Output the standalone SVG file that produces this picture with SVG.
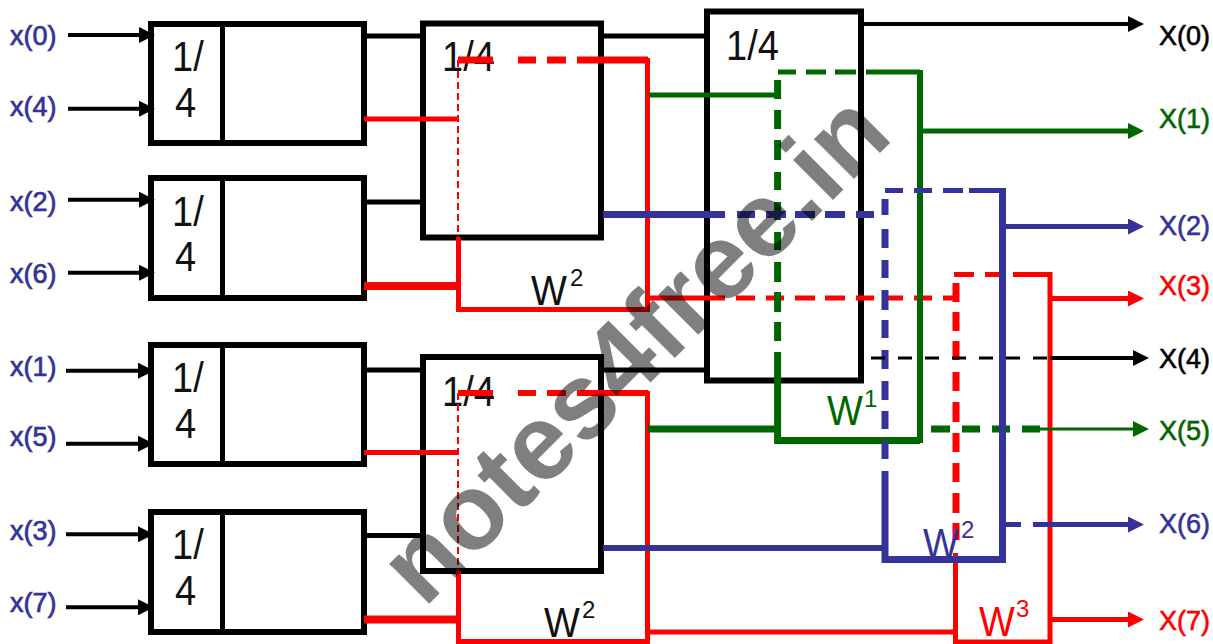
<svg xmlns="http://www.w3.org/2000/svg" width="1213" height="644" viewBox="0 0 1213 644">
<style>
text{font-family:"Liberation Sans",Arial,sans-serif}
.b{fill:none;stroke:#000;stroke-width:6}
.d{fill:none;stroke:#000;stroke-width:5}
.t{font-size:38px;fill:#111}
.sup{font-size:24px}
.in{font-size:27px;fill:#333399;stroke:#333399;stroke-width:.7}
.out{font-size:27px;stroke-width:.6}
.k{fill:none;stroke:#000}.r{fill:none;stroke:#f00}.g{fill:none;stroke:#006600}.u{fill:none;stroke:#333399}
.w{font-size:107px;font-weight:700;fill:#000;fill-opacity:.5}
</style>
<defs>
<marker id="ak" markerUnits="userSpaceOnUse" markerWidth="16" markerHeight="16" refX="0" refY="8" orient="auto"><path d="M0 0L16 8L0 16z" fill="#000"/></marker>
<marker id="ar" markerUnits="userSpaceOnUse" markerWidth="16" markerHeight="16" refX="0" refY="8" orient="auto"><path d="M0 0L16 8L0 16z" fill="#f00"/></marker>
<marker id="ag" markerUnits="userSpaceOnUse" markerWidth="16" markerHeight="16" refX="0" refY="8" orient="auto"><path d="M0 0L16 8L0 16z" fill="#006600"/></marker>
<marker id="au" markerUnits="userSpaceOnUse" markerWidth="16" markerHeight="16" refX="0" refY="8" orient="auto"><path d="M0 0L16 8L0 16z" fill="#333399"/></marker>
</defs>
<rect width="1213" height="644" fill="#fff"/>

<g id="box-1"><rect class="b" x="151" y="24" width="213" height="119"/><path class="d" d="M222.500 24V143"/><text class="t" transform="matrix(1 0 0 1.1 172 71)">1/</text><text class="t" transform="matrix(1 0 0 1.1 175 117)">4</text></g>
<g id="box-2"><rect class="b" x="151" y="178" width="213" height="120"/><path class="d" d="M222.500 178V298"/><text class="t" transform="matrix(1 0 0 1.1 172 226)">1/</text><text class="t" transform="matrix(1 0 0 1.1 175 271)">4</text></g>
<g id="box-3"><rect class="b" x="151" y="345" width="213" height="119"/><path class="d" d="M222.500 345V464"/><text class="t" transform="matrix(1 0 0 1.1 172 392)">1/</text><text class="t" transform="matrix(1 0 0 1.1 175 438)">4</text></g>
<g id="box-4"><rect class="b" x="151" y="512" width="213" height="120"/><path class="d" d="M222.500 512V632"/><text class="t" transform="matrix(1 0 0 1.1 172 559)">1/</text><text class="t" transform="matrix(1 0 0 1.1 175 605)">4</text></g>
<g id="box-5"><rect class="b" x="423" y="23.500" width="178" height="214"/><text class="t" transform="matrix(1 0 0 1.1 442 71)">1/4</text></g>
<g id="box-6"><rect class="b" x="423" y="357" width="178" height="214"/><text class="t" transform="matrix(1 0 0 1.1 442 406)">1/4</text></g>
<g id="box-7"><rect class="b" x="707" y="11.500" width="154" height="369"/><text class="t" transform="matrix(1 0 0 1.1 726 60)">1/4</text></g>

<g id="connectors">
<g class="k" stroke-width="4">
<path d="M68 35H139" marker-end="url(#ak)"/><path d="M68 108.700H139" marker-end="url(#ak)"/>
<path d="M68 199.700H139" marker-end="url(#ak)"/><path d="M68 272.700H139" marker-end="url(#ak)"/>
<path d="M66 370.700H138" marker-end="url(#ak)"/><path d="M66 443.700H138" marker-end="url(#ak)"/>
<path d="M66 534.300H138" marker-end="url(#ak)"/><path d="M66 607.300H138" marker-end="url(#ak)"/>
</g>
<path class="k" stroke-width="5" d="M367 36H420M367 202H420M367 370H420M367 535.500H420M603 36H705M603 370H705"/>
<path class="r" stroke-width="5" d="M364 119H458M364 452.500H458"/>
<path class="r" stroke-width="8" d="M364 286H458M364 619.500H458"/>
<path class="r" stroke-width="2" stroke-dasharray="7 4" d="M458 60V237M458 393V570"/>
<path class="r" stroke-width="7" d="M458 60H493M518 60H536M547 60H566M577 60H648"/>
<path class="r" stroke-width="6" d="M458 393H493M518 393H536M547 393H566M577 393H648"/>
<path class="r" stroke-width="5" d="M458.500 237V309.500H647.500V58M458.500 571V641.500H647.500V391"/>
<path class="r" stroke-width="5" d="M648 298H725M736 298H755M766 298H784M795 298H815M825 298H845M856 298H874M884 298H903M914 298H932M943 298H958"/>
<path class="r" stroke-width="7" d="M956 283V302M956 312V331M956 341V360M956 372V391M956 402V422M956 433V452M956 463V482M956 493V513M956 523V540"/>
<path class="r" stroke-width="5" d="M954 274.500H974M985 274.500H1002M1013 274.500H1050V644M648 632H955.500M955.500 553V642H1050"/>
<path class="r" stroke-width="5" d="M1052 298.500H1128" marker-end="url(#ar)"/>
<path class="r" stroke-width="5" d="M1052 619.500H1128" marker-end="url(#ar)"/>
<path class="g" stroke-width="5" d="M649 95H778M778 72H796M806 72H826M835 72H856M866 72H920"/>
<path class="g" stroke-width="7" d="M777.600 80V99M777.600 110V129M777.600 140V160M777.600 172V190M777.600 202V220M777.600 232V250M777.600 262V282M777.600 292V312M777.600 322V341M777.600 352V440.500H920M648 429H778M931 429H950M962 429H980M992 429H1010M1022 429H1040"/>
<path class="g" stroke-width="6" d="M920 70V443"/>
<path class="g" stroke-width="5" d="M920 131H1128" marker-end="url(#ag)"/>
<path class="g" stroke-width="3" d="M1040 429H1133" marker-end="url(#ag)"/>
<path class="u" stroke-width="7" d="M603 214.500H725M737 214.500H755M766 214.500H786M795 214.500H815M825 214.500H845M856 214.500H874M885 199V215M885 229V248M885 260V278M885 290V310M885 320V338M885 350V369M885 381V400M885 411V429M885 441V459M885 471V559.500H1002.500V188"/>
<path class="u" stroke-width="5" d="M885 190.500H903M914 190.500H932M943 190.500H963M969 190.500H1005"/>
<path class="u" stroke-width="6" d="M603 548H885"/>
<path class="u" stroke-width="5" d="M1003 226.500H1128" marker-end="url(#au)"/>
<path class="u" stroke-width="5" d="M1003 524.500H1021M1033 524.500H1128" marker-end="url(#au)"/>
<path class="k" stroke-width="4" d="M863 24H1128" marker-end="url(#ak)"/>
<path class="k" stroke-width="3" stroke-dasharray="14 13" d="M871 358H1050"/>
<path class="k" stroke-width="4" d="M1050 358H1133" marker-end="url(#ak)"/>
</g>

<g id="input-labels">
<text class="in" x="10" y="45">x(0)</text><text class="in" x="10" y="116">x(4)</text>
<text class="in" x="10" y="211">x(2)</text><text class="in" x="10" y="283">x(6)</text>
<text class="in" x="10" y="376">x(1)</text><text class="in" x="10" y="446">x(5)</text>
<text class="in" x="10" y="540">x(3)</text><text class="in" x="10" y="612">x(7)</text>
</g>
<g id="output-labels">
<text class="out" x="1159" y="45" fill="#000" stroke="#000">X(0)</text>
<text class="out" x="1159" y="128" fill="#006600" stroke="#006600">X(1)</text>
<text class="out" x="1159" y="235" fill="#333399" stroke="#333399">X(2)</text>
<text class="out" x="1159" y="295" fill="#f00" stroke="#f00">X(3)</text>
<text class="out" x="1159" y="368" fill="#000" stroke="#000">X(4)</text>
<text class="out" x="1159" y="440" fill="#006600" stroke="#006600">X(5)</text>
<text class="out" x="1159" y="533" fill="#333399" stroke="#333399">X(6)</text>
<text class="out" x="1159" y="630" fill="#f00" stroke="#f00">X(7)</text>
</g>
<g id="twiddles">
<text class="t" transform="matrix(1 0 0 1.1 531 305)">W</text><text class="t sup" x="570" y="286">2</text>
<text class="t" transform="matrix(1 0 0 1.1 544 637)">W</text><text class="t sup" x="582" y="618">2</text>
<text class="t" transform="matrix(1 0 0 1.1 827 425)" style="fill:#006600">W</text><text class="t sup" x="864" y="407" style="fill:#006600">1</text>
<text class="t" transform="matrix(1 0 0 1.1 923 558)" style="fill:#333399">W</text><text class="t sup" x="961" y="538" style="fill:#333399">2</text>
<text class="t" transform="matrix(1 0 0 1.1 979 636)" style="fill:#f00">W</text><text class="t sup" x="1016" y="617" style="fill:#f00">3</text>
</g>
<text class="w" transform="translate(424 609) rotate(-45)">notes4free.in</text>
</svg>
